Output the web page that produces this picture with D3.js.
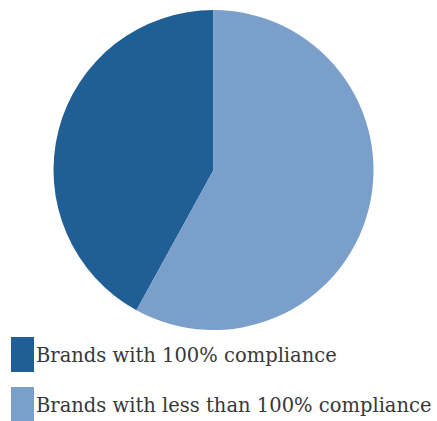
<!DOCTYPE html>
<html><head><meta charset="utf-8">
<script src="https://cdn.jsdelivr.net/npm/d3@7"></script>
<style>body{margin:0;background:#fff}</style>
</head><body>
<svg id="c" width="437" height="421"></svg>
<script>
const categories = ["Brands with 100% compliance", "Brands with less than 100% compliance"];
const values = [42, 58];
const colors = ["#1f5f95", "#7a9fca"];

const svg = d3.select("#c");
const cx = 213.5, cy = 170, r = 160;
const total = d3.sum(values);
const start = -2 * Math.PI * values[0] / total;
const pie = d3.pie().sort(null).startAngle(start).endAngle(start + 2 * Math.PI);
const arc = d3.arc().innerRadius(0).outerRadius(r);
const data = categories.map((c, i) => ({c, v: values[i], col: colors[i]}));

svg.append("g").attr("transform", `translate(${cx},${cy})`)
  .selectAll("path").data(pie.value(d => d.v)(data)).join("path")
  .attr("d", arc).attr("fill", d => d.data.col);

const lg = svg.append("g");
const rows = lg.selectAll("g").data(data).join("g")
  .attr("transform", (d, i) => `translate(11,${337 + i * 50})`);
rows.append("rect").attr("width", 23).attr("height", 35).attr("fill", d => d.col);
rows.append("text").attr("x", 25).attr("y", 25)
  .attr("font-family", "DejaVu Serif, serif").attr("font-size", 19.5)
  .attr("fill", "#383838").text(d => d.c);
</script>
</body></html>
